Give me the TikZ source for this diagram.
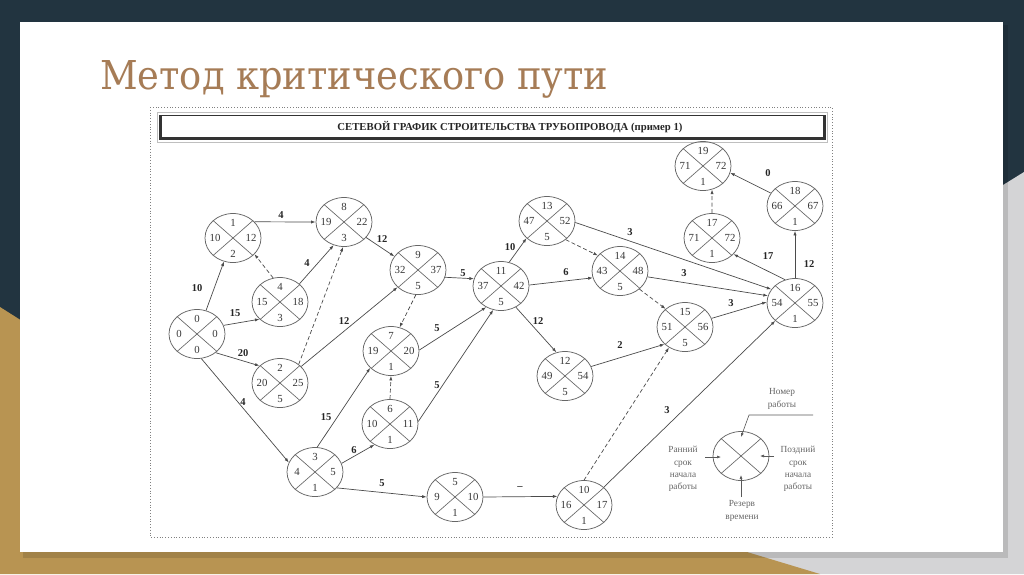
\documentclass[tikz,border=0pt]{standalone}
\usepackage{fontspec}
\setmainfont{Liberation Serif}
\newfontfamily\titlefont{DejaVu Serif Condensed}
\usetikzlibrary{shapes.geometric,arrows.meta,calc}
\definecolor{navy}{RGB}{34,52,64}
\definecolor{goldc}{RGB}{184,148,82}
\definecolor{greyc}{RGB}{212,212,214}
\definecolor{titlec}{RGB}{166,124,86}
\definecolor{ink}{RGB}{55,55,55}
\definecolor{edge}{RGB}{75,75,75}
\tikzset{
  ev/.style={ellipse, draw=gray!80!black, line width=0.75pt, minimum width=56pt, minimum height=49pt, inner sep=0pt},
  cross/.style={draw=gray!80!black, line width=0.65pt},
  num/.style={inner sep=0pt, font=\fontsize{10.8}{10.8}\selectfont, text=ink},
  lbl/.style={inner sep=0pt, font=\bfseries\fontsize{10.5}{10.5}\selectfont, text=black!85},
  arr/.style={draw=edge, line width=0.7pt, -{Latex[length=4.5pt,width=3.2pt]}},
  dsh/.style={arr, dash pattern=on 4pt off 2.5pt},
  legarr/.style={draw=gray!70!black, line width=0.6pt, -{Latex[length=4pt,width=3pt]}},
  legtext/.style={inner sep=0pt, align=center, font=\fontsize{9.3}{12.3}\selectfont, text=black!60}
}
\newcommand{\evnode}[6]{%
  \node[ev] (#1) at (#2) {};
  \draw[cross] (#1.north west) -- (#1.south east) (#1.north east) -- (#1.south west);
  \node[num] (#1t) at ($(#1.center)+(0,-15)$) {#3};
  \node[num] (#1l) at ($(#1.center)+(-18,0)$) {#4};
  \node[num] (#1r) at ($(#1.center)+(18,0)$) {#5};
  \node[num] (#1b) at ($(#1.center)+(0,16)$) {#6};
}
\begin{document}
\begin{tikzpicture}[x=1pt,y=-1pt]
\useasboundingbox (0,0) rectangle (1024,574);
% slide background
\fill[navy] (0,0) rectangle (1024,574);
\fill[greyc] (1024,172) -- (700,373) -- (700,574) -- (1024,574) -- cycle;
\fill[goldc] (0,307) -- (60,345) -- (820,574) -- (0,574) -- cycle;
\fill[black, opacity=0.12] (23,25) rectangle (1008,558);
\fill[white] (20,22) rectangle (1003,552);
% slide title
\node[anchor=base west, inner sep=0pt, text=titlec] (title) at (100,89) {\resizebox{508pt}{29pt}{\titlefont Метод критического пути}};
% picture frame
\draw[gray, dotted, line width=0.8pt] (150,107) rectangle (832,537);
% title bar
\draw[gray!50, line width=0.5pt] (157,112) rectangle (827,142);
\draw[black!80, line width=0.8pt] (160,115) rectangle (825,139);
\draw[black!80, line width=2.4pt] (160.5,115) -- (160.5,138.5) -- (824.5,138.5) -- (824.5,115);
\node[inner sep=0pt, font=\bfseries, text=black!85] (bartext) at (510,127) {\resizebox{345pt}{!}{СЕТЕВОЙ ГРАФИК СТРОИТЕЛЬСТВА ТРУБОПРОВОДА (пример 1)}};
% events
\evnode{n0}{197,334}{0}{0}{0}{0}
\evnode{n1}{233,238}{1}{10}{12}{2}
\evnode{n4}{280,302}{4}{15}{18}{3}
\evnode{n2}{280,383}{2}{20}{25}{5}
\evnode{n8}{344,222}{8}{19}{22}{3}
\evnode{n9}{418,270}{9}{32}{37}{5}
\evnode{n7}{391,351}{7}{19}{20}{1}
\evnode{n6}{390,424}{6}{10}{11}{1}
\evnode{n3}{315,472}{3}{4}{5}{1}
\evnode{n5}{455,497}{5}{9}{10}{1}
\evnode{n10}{584,505}{10}{16}{17}{1}
\evnode{n11}{501,286}{11}{37}{42}{5}
\evnode{n13}{547,221}{13}{47}{52}{5}
\evnode{n14}{620,271}{14}{43}{48}{5}
\evnode{n12}{565,376}{12}{49}{54}{5}
\evnode{n15}{685,327}{15}{51}{56}{5}
\evnode{n16}{795,303}{16}{54}{55}{1}
\evnode{n17}{712,238}{17}{71}{72}{1}
\evnode{n18}{795,206}{18}{66}{67}{1}
\evnode{n19}{703,166}{19}{71}{72}{1}
% works
\draw[arr] (n0.69) -- (n1.249) node[lbl] (e1) at (197,288) {10};
\draw[arr] (n0.18) -- (n4.220) node[lbl] (e2) at (235,313) {15};
\draw[arr] (n0.-45) -- (n2.140) node[lbl] (e3) at (243,353) {20};
\draw[arr] (n0.-80) -- (n3.160) node[lbl] (e4) at (243,402) {4};
\draw[arr] (n1.37) -- (n8.west) node[lbl] (e5) at (281,215) {4};
\draw[dsh] (n4.106) -- (n1.-37);
\draw[arr] (n4.43) -- (n8.246) node[lbl] (e7) at (307,263) {4};
\draw[dsh] (n2.45) -- (n8.268);
\draw[arr] (n8.-35) -- (n9.150) node[lbl] (e9) at (382,239) {12};
\draw[arr] (n2.38) -- (n9.220) node[lbl] (e10) at (344,321) {12};
\draw[dsh] (n9.265) -- (n7.70);
\draw[arr] (n9.-15) -- (n11.165) node[lbl] (e12) at (463,273) {5};
\draw[arr] (n7.2) -- (n11.235) node[lbl] (e13) at (437,328) {5};
\draw[dsh] (n6.north) -- (n7.south);
\draw[arr] (n6.5) -- (n11.252) node[lbl] (e15) at (437,385) {5};
\draw[arr] (n3.85) -- (n7.219) node[lbl] (e16) at (326,417) {15};
\draw[arr] (n3.18) -- (n6.233) node[lbl] (e17) at (354,450) {6};
\draw[arr] (n3.-36) -- (n5.west) node[lbl] (e18) at (382,483) {5};
\draw[arr] (n5.east) -- (n10.162) node[lbl] (e19) at (520,488) {–};
\draw[dsh] (n10.north) -- (n15.232);
\draw[arr] (n10.42) -- (n16.222) node[lbl] (e21) at (667,410) {3};
\draw[arr] (n11.71) -- (n13.220) node[lbl] (e22) at (510,247) {10};
\draw[arr] (n11.2) -- (n14.194) node[lbl] (e23) at (566,272) {6};
\draw[arr] (n11.-55) -- (n12.110) node[lbl] (e24) at (538,321) {12};
\draw[dsh] (n13.-45) -- (n14.145);
\draw[arr] (n13.-3) -- (n16.150) node[lbl] (e26) at (630,232) {3};
\draw[arr] (n14.-12) -- (n16.165) node[lbl] (e27) at (684,273) {3};
\draw[dsh] (n14.-43) -- (n15.137);
\draw[arr] (n12.20) -- (n15.220) node[lbl] (e29) at (620,345) {2};
\draw[arr] (n15.18) -- (n16.178) node[lbl] (e30) at (731,303) {3};
\draw[arr] (n16.113) -- (n17.-37) node[lbl] (e31) at (768,256) {17};
\draw[arr] (n16.north) -- (n18.south) node[lbl] (e32) at (809,264) {12};
\draw[dsh] (n17.north) -- (n19.-69);
\draw[arr] (n18.152) -- (n19.-14) node[lbl] (e34) at (768,173) {0};
% legend
\node[ev] (leg) at (741,456) {};
\draw[cross] (leg.north west) -- (leg.south east) (leg.north east) -- (leg.south west);
\coordinate (lgA) at (813,415);
\coordinate (lgB) at (749,415);
\coordinate (lgL) at (705,457);
\coordinate (lgR) at (774,456);
\coordinate (lgD) at (741,497);
\draw[legarr] (lgA) -- (lgB) -- ($(leg.center)+(0,-19)$);
\draw[legarr] (lgL) -- ($(leg.center)+(-20,1)$);
\draw[legarr] (lgR) -- ($(leg.center)+(19,0)$);
\draw[legarr] (lgD) -- ($(leg.center)+(0,19)$);
\node[legtext] (lt1) at (782,399) {Номер\\работы};
\node[legtext] (lt2) at (683,469) {Ранний\\срок\\начала\\работы};
\node[legtext] (lt3) at (798,469) {Поздний\\срок\\начала\\работы};
\node[legtext] (lt4) at (742,511) {Резерв\\времени};
\end{tikzpicture}
\end{document}
